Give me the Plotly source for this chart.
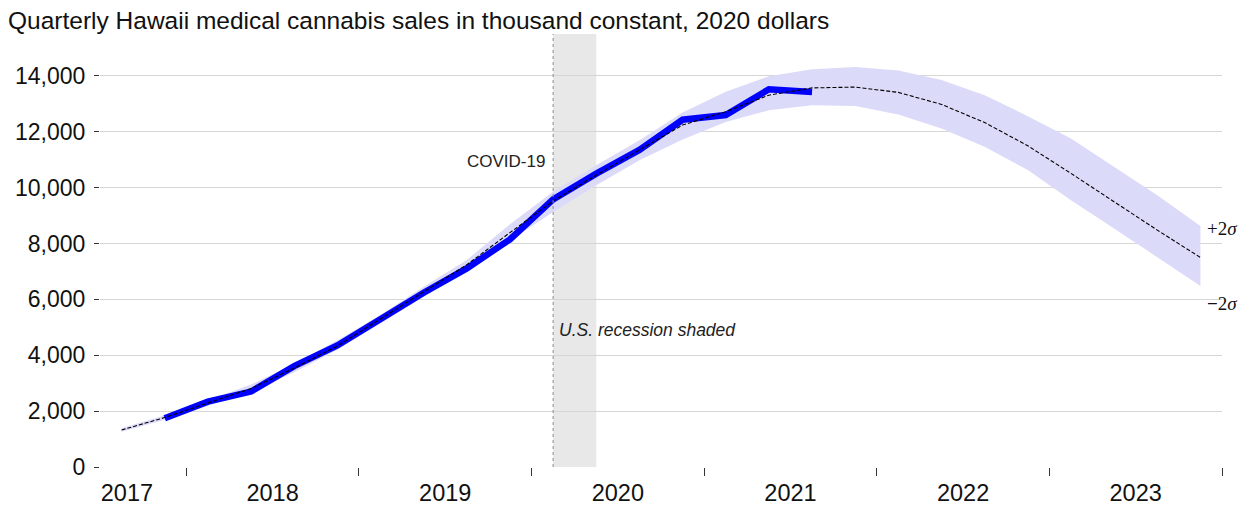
import plotly.graph_objects as go

# Quarterly periods covered by the model fit / forecast
forecast_quarters = [
    "2017Q3", "2017Q4",
    "2018Q1", "2018Q2", "2018Q3", "2018Q4",
    "2019Q1", "2019Q2", "2019Q3", "2019Q4",
    "2020Q1", "2020Q2", "2020Q3", "2020Q4",
    "2021Q1", "2021Q2", "2021Q3", "2021Q4",
    "2022Q1", "2022Q2", "2022Q3", "2022Q4",
    "2023Q1", "2023Q2", "2023Q3", "2023Q4",
]
# Central forecast (thousand constant 2020 dollars)
forecast = [
    1325, 1770,
    2290, 2810, 3540, 4330,
    5300, 6270, 7240, 8390,
    9520, 10450, 11350, 12240,
    12720, 13310, 13570, 13600,
    13410, 12980, 12330, 11500,
    10510, 9490, 8480, 7500,
]
# +2 sigma / -2 sigma bounds
upper_2sd = [
    1390, 1850,
    2390, 2950, 3700, 4540,
    5440, 6450, 7410, 8690,
    9850, 10800, 11700, 12690,
    13430, 13990, 14240, 14320,
    14190, 13850, 13310, 12560,
    11760, 10740, 9730, 8630,
]
lower_2sd = [
    1260, 1690,
    2190, 2680, 3390, 4200,
    5140, 6090, 7050, 8100,
    9130, 10090, 10980, 11720,
    12350, 12770, 12950, 12920,
    12620, 12120, 11460, 10630,
    9550, 8540, 7520, 6480,
]

# Observed sales
actual_quarters = [
    "2017Q4",
    "2018Q1", "2018Q2", "2018Q3", "2018Q4",
    "2019Q1", "2019Q2", "2019Q3", "2019Q4",
    "2020Q1", "2020Q2", "2020Q3", "2020Q4",
    "2021Q1", "2021Q2", "2021Q3",
]
actual = [
    1745,
    2337, 2700, 3610, 4350,
    5320, 6240, 7110, 8150,
    9580, 10500, 11350, 12430,
    12600, 13520, 13420,
]

year_labels = ["2017", "2018", "2019", "2020", "2021", "2022", "2023"]
y_ticks = [0, 2000, 4000, 6000, 8000, 10000, 12000, 14000]

recession_start = "2020Q1"
recession_end = "2020Q2"
covid_quarter = "2020Q1"


def qpos(label):
    """Decimal-year position of the middle of a quarter."""
    year, q = label.split("Q")
    return int(year) + (int(q) - 0.5) / 4.0


xf = [qpos(q) for q in forecast_quarters]
xa = [qpos(q) for q in actual_quarters]

FONT = "Liberation Sans, Arial, sans-serif"
SERIF = "Liberation Serif, serif"
BAND = "#DCDAF9"

fig = go.Figure()

# Uncertainty band
fig.add_trace(go.Scatter(
    x=xf, y=upper_2sd, mode="lines", line=dict(width=0, color=BAND),
    hoverinfo="skip", showlegend=False,
))
fig.add_trace(go.Scatter(
    x=xf, y=lower_2sd, mode="lines", line=dict(width=0, color=BAND),
    fill="tonexty", fillcolor=BAND, hoverinfo="skip", showlegend=False,
))
# Observed sales
fig.add_trace(go.Scatter(
    x=xa, y=actual, mode="lines", line=dict(color="#0000FF", width=6.5),
    showlegend=False,
))
# Forecast
fig.add_trace(go.Scatter(
    x=xf, y=forecast, mode="lines",
    line=dict(color="#000000", width=1.1, dash="4px,2px"),
    showlegend=False,
))

x0 = 2017.5
x1 = 2024.0
ymax = 15500

# Recession shading and COVID marker
fig.add_shape(type="rect", xref="x", yref="y",
              x0=qpos(recession_start), x1=qpos(recession_end), y0=0, y1=ymax,
              fillcolor="#E8E8E8", line=dict(width=0), layer="below")
fig.add_shape(type="line", xref="x", yref="y",
              x0=qpos(covid_quarter), x1=qpos(covid_quarter), y0=0, y1=ymax,
              line=dict(color="#8C8C8C", width=1, dash="dot"), layer="above")

fig.add_annotation(x=qpos(covid_quarter), y=10950, xref="x", yref="y",
                   text="COVID-19", showarrow=False, xanchor="right",
                   yanchor="middle", xshift=-6,
                   font=dict(family=FONT, size=17, color="#222222"))
fig.add_annotation(x=qpos(covid_quarter), y=4900, xref="x", yref="y",
                   text="<i>U.S. recession shaded</i>", showarrow=False,
                   xanchor="left", yanchor="middle", xshift=4,
                   font=dict(family=FONT, size=17.5, color="#222222"))

# Sigma labels beside the band end
fig.add_annotation(x=x1, y=8520, xref="x", yref="y",
                   text="+2<i>σ</i>", showarrow=False, xanchor="left",
                   yanchor="middle", xshift=-17,
                   font=dict(family=SERIF, size=19, color="#111111"))
fig.add_annotation(x=x1, y=5840, xref="x", yref="y",
                   text="<b>−</b>2<i>σ</i>", showarrow=False, xanchor="left",
                   yanchor="middle", xshift=-17,
                   font=dict(family=SERIF, size=19, color="#111111"))

# Year labels sit mid-year; the first one is nudged inside the axis range
label_pos = [int(y) + 0.5 for y in year_labels]
label_pos[0] = x0 + 0.156

fig.update_layout(
    width=1245, height=507,
    margin=dict(l=100, r=23, t=34, b=40),
    paper_bgcolor="white", plot_bgcolor="white",
    font=dict(family=FONT, color="#111111"),
    title=dict(
        text="Quarterly Hawaii medical cannabis sales in thousand constant, 2020 dollars",
        x=8 / 1245, xref="container", xanchor="left",
        y=1 - 20 / 507, yref="container", yanchor="middle",
        font=dict(family=FONT, size=24.5, color="#111111"),
    ),
    xaxis=dict(
        range=[x0, x1], showgrid=False, zeroline=False, showline=False,
        automargin=False,
        tickmode="array", tickvals=label_pos, ticktext=year_labels,
        ticks="", tickfont=dict(family=FONT, size=23.5, color="#111111"),
        ticklabelstandoff=9,
        minor=dict(tickmode="array",
                   tickvals=[int(y) + 1 for y in year_labels],
                   ticks="outside", ticklen=8, tickwidth=1,
                   tickcolor="#333333", showgrid=False),
    ),
    yaxis=dict(
        range=[0, ymax], tickmode="array", tickvals=y_ticks,
        automargin=False,
        tickformat=",d", showgrid=True, gridcolor="#D6D6D6", gridwidth=1,
        zeroline=False, showline=False, ticks="outside", ticklen=5,
        tickwidth=1, tickcolor="#333333",
        tickfont=dict(family=FONT, size=23, color="#111111"),
        ticklabelstandoff=4,
    ),
    showlegend=False,
)

fig.write_html("out.html")
